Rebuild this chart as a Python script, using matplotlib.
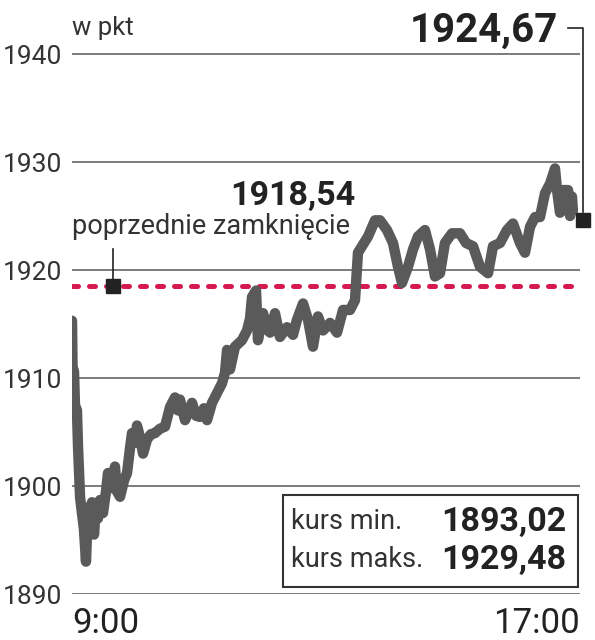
import matplotlib
matplotlib.use('Agg')
import matplotlib.pyplot as plt
from matplotlib.patches import Rectangle

# minutes after 9:00 and index value (pkt)
minutes = [0, 0.5, 1.9, 2.8, 4.7, 5.7, 7.6, 9.4, 11.3, 13.2, 15.1, 17.0, 18.9, 20.8,
           22.7, 24.6, 26.5, 29.3, 32.1, 34.0, 36.9, 40.6, 42.5, 45.4, 49.1, 52.0,
           54.8, 56.7, 59.5, 61.4, 64.3, 67.1, 70.9, 74.6, 78.4, 83.1, 87.9, 92.6,
           97.3, 100.2, 102.0, 106.8, 110.6, 113.4, 117.2, 120.9, 124.7, 127.6,
           132.3, 137.0, 141.7, 144.6, 146.5, 149.3, 154.0, 160.6, 165.4, 168.2,
           170.1, 173.9, 175.7, 180.5, 184.3, 187.1, 191.8, 196.5, 203.1, 208.8,
           212.6, 218.3, 223.0, 227.7, 232.4, 237.2, 243.8, 250.4, 256.1, 262.7,
           267.4, 270.2, 274.0, 279.7, 286.3, 291.0, 297.6, 303.3, 308.0, 311.8,
           317.5, 322.2, 326.9, 333.5, 338.3, 343.0, 347.7, 352.4, 359.1, 366.6,
           372.3, 378.9, 385.5, 393.1, 397.8, 404.4, 411.0, 416.7, 423.3, 428.0,
           432.8, 437.5, 442.2, 446.9, 451.7, 456.4, 458.3, 461.1, 464.0, 468.7,
           470.6, 472.4, 473.3]
values = [1915.3, 1911.0, 1910.6, 1907.5, 1907.0, 1903.6, 1899.0, 1897.5, 1896.0,
          1893.0, 1898.0, 1896.5, 1898.5, 1895.5, 1898.3, 1897.0, 1898.7, 1897.5,
          1899.5, 1901.2, 1899.8, 1901.8, 1899.5, 1899.0, 1900.5, 1901.2, 1903.5,
          1904.9, 1904.0, 1905.6, 1904.5, 1903.0, 1904.3, 1904.8, 1904.9, 1905.3,
          1905.5, 1907.3, 1908.2, 1907.0, 1908.0, 1906.1, 1907.0, 1907.7, 1906.5,
          1906.4, 1907.2, 1906.1, 1907.7, 1908.6, 1909.5, 1910.5, 1912.6, 1910.8,
          1912.9, 1913.5, 1914.4, 1915.5, 1917.5, 1918.1, 1913.5, 1916.0, 1914.5,
          1914.2, 1916.0, 1913.8, 1914.7, 1914.0, 1915.4, 1916.9, 1915.4, 1912.9,
          1915.7, 1914.4, 1915.1, 1914.2, 1916.3, 1916.3, 1917.2, 1921.6, 1922.2,
          1923.1, 1924.6, 1924.6, 1923.7, 1922.5, 1920.3, 1918.8, 1920.3, 1921.9,
          1923.1, 1923.7, 1921.9, 1919.4, 1919.7, 1922.5, 1923.4, 1923.4, 1922.5,
          1922.2, 1920.3, 1919.7, 1922.2, 1922.5, 1923.7, 1924.3, 1922.5, 1921.6,
          1924.0, 1924.9, 1924.9, 1927.1, 1928.0, 1929.4, 1927.4, 1925.3, 1927.4,
          1927.4, 1925.0, 1926.8, 1925.5]

prev_close = 1918.54
last_value = 1924.67
min_value = 1893.02
max_value = 1929.48
yticks = [1890, 1900, 1910, 1920, 1930, 1940]

dark = '#222222'
light_font = {'family': 'Roboto', 'weight': 'normal'}
bold_font = {'family': 'Roboto', 'weight': 'bold'}

fig = plt.figure(figsize=(5.95, 6.4), dpi=100)
ax = fig.add_axes([72 / 595, 46 / 640, 508 / 595, 594 / 640])
ax.set_xlim(0, 480)
ax.set_ylim(1890, 1945)
for s in ax.spines.values():
    s.set_visible(False)
ax.set_xticks([])
ax.set_yticks(yticks)
ax.set_yticklabels([str(t) for t in yticks], fontsize=19, color='#333333',
                   family='Roboto', weight='normal')
ax.tick_params(axis='y', length=0, pad=7)
for t in yticks:
    ax.axhline(t, color='#666666', lw=1.2, zorder=1)

# previous close line
ax.axhline(prev_close, color='#d41a4f', lw=3.6, dashes=(1.2, 2.2),
           dash_capstyle='round', zorder=2)

ax.plot(minutes, values, color='#5a5a5a', lw=7.5, solid_joinstyle='round',
        solid_capstyle='round', zorder=3)

# previous close marker + label
ax.plot([38.7, 38.7], [prev_close, 1921.9], color=dark, lw=1.2, zorder=4, clip_on=False)
ax.plot(38.7, prev_close, 's', ms=9.5, color=dark, zorder=5, clip_on=False)
ax.text(0, 1923.3, 'poprzednie zamknięcie', fontsize=19.5, color='#333333', ha='left',
        va='baseline', **light_font)
ax.text(267.4, 1926.0, '1918,54', fontsize=24.5, color=dark, ha='right',
        va='baseline', **bold_font)

# last value marker + label
ax.plot([468.7, 482.9, 482.9], [1942.4, 1942.4, 1925.4], color=dark, lw=1.2,
        zorder=4, clip_on=False)
ax.plot(482.9, last_value, 's', ms=9.5, color=dark, zorder=5, clip_on=False)
ax.text(459.2, 1941.1, '1924,67', fontsize=29, color=dark, ha='right',
        va='baseline', **bold_font)

ax.text(0, 1941.8, 'w pkt', fontsize=18.5, color='#333333', ha='left', va='baseline',
        **light_font)

# min/max box
ax.add_patch(Rectangle((199.4, 1890.65), 278.6, 8.55, facecolor='white',
                       edgecolor='#333333', lw=1.5, zorder=6))
ax.text(207, 1896.67, 'kurs min.', fontsize=19.5, color='#333333', ha='left',
        va='center', zorder=7, **light_font)
ax.text(207, 1893.15, 'kurs maks.', fontsize=19.5, color='#333333', ha='left',
        va='center', zorder=7, **light_font)
ax.text(467.5, 1896.67, '1893,02', fontsize=24.5, color=dark, ha='right', va='center',
        zorder=7, **bold_font)
ax.text(467.5, 1893.15, '1929,48', fontsize=24.5, color=dark, ha='right', va='center',
        zorder=7, **bold_font)

# time labels
ax.text(0, 1886.4, '9:00', fontsize=25, color=dark, ha='left', va='baseline',
        family='Roboto', clip_on=False)
ax.text(480, 1886.4, '17:00', fontsize=25, color=dark, ha='right', va='baseline',
        family='Roboto', clip_on=False)

fig.savefig('out.png', dpi=100)
